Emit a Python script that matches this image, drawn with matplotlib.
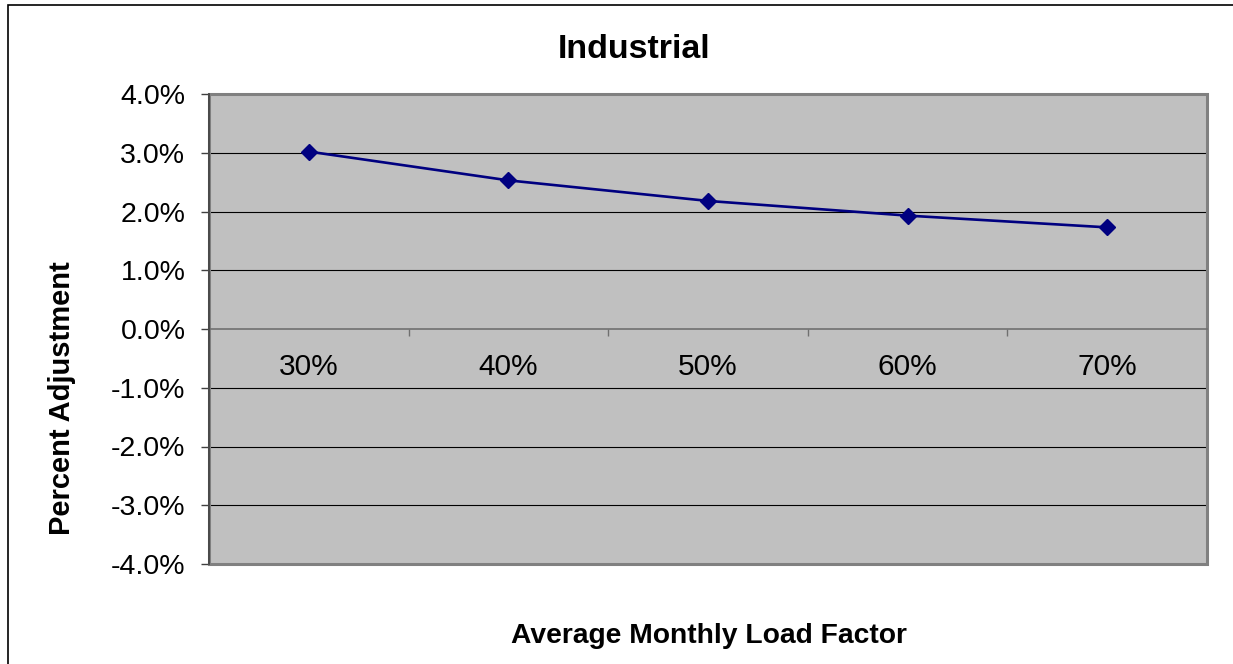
import matplotlib
matplotlib.use("Agg")
from matplotlib import pyplot as plt
from matplotlib.patches import Rectangle
import numpy as np

plt.rcParams['font.family'] = ['Liberation Sans', 'DejaVu Sans']

# data
categories = ["30%", "40%", "50%", "60%", "70%"]
adjustment = [3.02, 2.53, 2.18, 1.93, 1.73]  # percent
yticks = [-4, -3, -2, -1, 0, 1, 2, 3, 4]

W, H = 1233, 664
fig = plt.figure(figsize=(W / 100, H / 100), dpi=100)
ax = fig.add_axes([209 / W, 1 - 564 / H, 998 / W, 470 / H])
ax.set_facecolor('#C0C0C0')

x = np.arange(len(categories))
ax.set_xlim(-0.5, len(categories) - 0.5)
ax.set_ylim(-4, 4)

# gridlines
for v in yticks:
    if v != 0:
        ax.axhline(v, color='black', lw=0.8, zorder=1)

ax.plot(x, adjustment, color='#000080', lw=1.9, marker='D', markersize=8.5,
        markerfacecolor='#000080', markeredgecolor='#000080', zorder=3)

# y axis
ax.set_yticks(yticks)
ax.set_yticklabels(['%.1f%%' % v for v in yticks], fontsize=20.5)
ax.tick_params(axis='y', direction='out', length=6, width=1, color='#404040', pad=11)

# category axis sits on zero
ax.spines['bottom'].set_position(('data', 0))
ax.spines['bottom'].set_color('#707070')
ax.spines['bottom'].set_linewidth(1.2)
ax.set_xticks(np.arange(-0.5, len(categories), 1.0))
ax.set_xticklabels([])
ax.set_xticks(x, minor=True)
ax.set_xticklabels(categories, minor=True, fontsize=21.5)
ax.tick_params(axis='x', which='major', direction='out', length=5, width=1, color='#707070')
ax.tick_params(axis='x', which='minor', length=0, pad=17)

for s in ['top', 'right']:
    ax.spines[s].set_visible(False)
ax.spines['left'].set_color('#404040')
ax.spines['left'].set_linewidth(1.2)
ax.spines['left'].set_zorder(4)

# plot area frame
ax.add_patch(Rectangle((0, 0), 1, 1, transform=ax.transAxes, fill=False,
                       edgecolor='#808080', lw=2.2, clip_on=False, zorder=2))

# titles
fig.text(634 / W, 1 - 50 / H, "Industrial", fontsize=24.5, fontweight='bold',
         ha='center', va='center')
fig.text(62 / W, 1 - 398 / H, "Percent Adjustment", fontsize=21, fontweight='bold',
         rotation=90, ha='center', va='center')
fig.text(709 / W, 1 - 636 / H, "Average Monthly Load Factor", fontsize=20.3,
         fontweight='bold', ha='center', va='center')

# outer chart border (left and top visible)
fig.add_artist(Rectangle((7.5 / W, -0.05), 1.2, 1 - 4.5 / H + 0.05,
                         transform=fig.transFigure, fill=False,
                         edgecolor='black', lw=1.2, clip_on=False))

fig.savefig("out.png", dpi=100)
